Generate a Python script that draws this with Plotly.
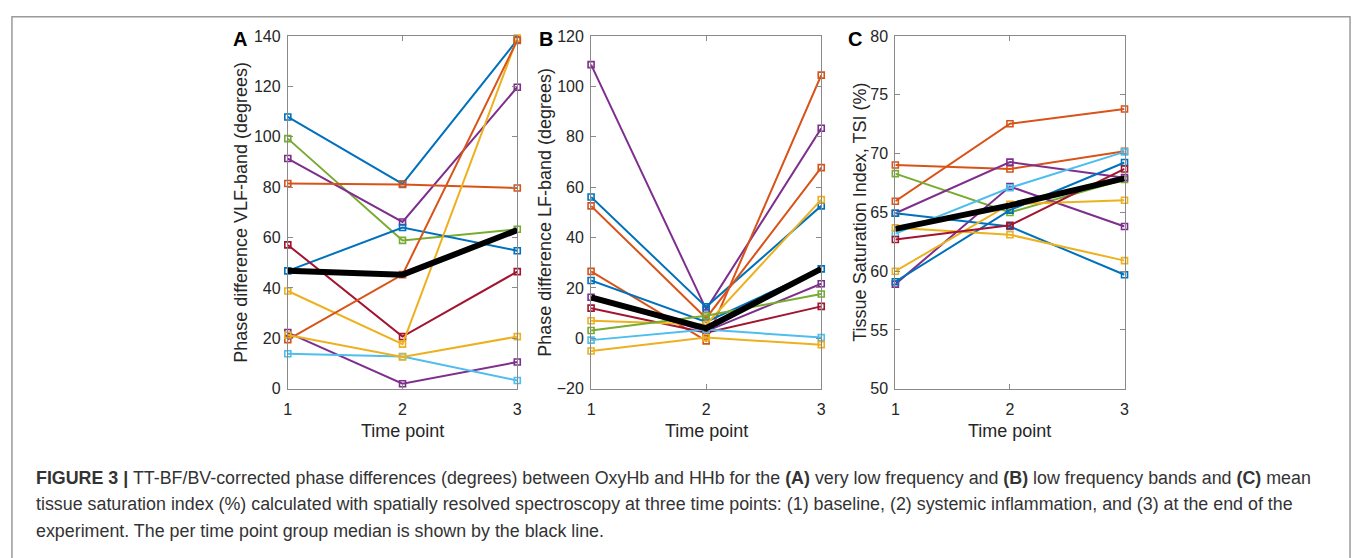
import plotly.graph_objects as go

# ---------------- data ----------------
time_points = [1, 2, 3]
x_tick_labels = ["1", "2", "3"]

# Panel A: phase difference VLF-band (degrees), one list per subject
vlf_subjects = [
    [107.9, 81.3, 138.5],
    [99.3, 58.9, 63.3],
    [91.4, 66.2, 119.7],
    [81.5, 81.1, 79.7],
    [46.8, 64.0, 54.8],
    [57.1, 20.7, 46.5],
    [38.8, 17.7, 139.2],
    [19.5, 45.3, 138.3],
    [22.3, 2.0, 10.6],
    [13.9, 12.8, 3.3],
    [21.3, 12.6, 20.7],
]
vlf_median = [46.8, 45.3, 63.0]

# Panel B: phase difference LF-band (degrees)
lf_subjects = [
    [108.7, 11.5, 83.4],
    [56.1, 12.5, 52.6],
    [52.6, 8.0, 67.8],
    [26.6, -1.0, 104.5],
    [23.0, 6.5, 27.6],
    [16.3, 2.8, 21.7],
    [12.0, 2.2, 12.7],
    [7.0, 5.5, 55.1],
    [3.1, 9.0, 17.6],
    [-0.7, 3.5, 0.3],
    [-5.0, 0.3, -2.5],
]
lf_median = [16.3, 4.0, 27.6]

# Panel C: tissue saturation index (%)
tsi_subjects = [
    [65.95, 72.55, 73.8],
    [69.03, 68.7, 70.2],
    [68.3, 65.0, 67.8],
    [64.93, 69.28, 67.96],
    [58.9, 67.2, 63.8],
    [64.93, 63.8, 59.7],
    [59.1, 65.2, 69.25],
    [63.2, 67.1, 70.15],
    [63.7, 63.1, 60.9],
    [60.0, 65.7, 66.03],
    [62.7, 63.9, 68.7],
]
tsi_median = [63.6, 65.6, 67.9]

# ---------------- styles ----------------
BLUE, ORANGE, YELLOW, PURPLE = "#0072BD", "#D95319", "#EDB120", "#7E2F8E"
GREEN, LBLUE, DRED = "#77AC30", "#4DBEEE", "#A2142F"
vlf_colors = [BLUE, GREEN, PURPLE, ORANGE, BLUE, DRED, YELLOW, ORANGE, PURPLE, LBLUE, YELLOW]
lf_colors = [PURPLE, BLUE, ORANGE, ORANGE, BLUE, PURPLE, DRED, YELLOW, GREEN, LBLUE, YELLOW]
tsi_colors = [ORANGE, ORANGE, GREEN, PURPLE, PURPLE, BLUE, BLUE, LBLUE, YELLOW, YELLOW, DRED]

W, H = 1358, 558
FONT = "Liberation Sans, Arial, Helvetica, sans-serif"
AX_COLOR = "#8a8a8a"
TXT = "#262626"

def px(x):
    return x / W

def py(y):
    return 1 - y / H

panels = [
    dict(subjects=vlf_subjects, colors=vlf_colors, median=vlf_median,
         left=285.7, right=516.7, yrange=[0, 140], dtick=20,
         ytitle="Phase difference VLF-band (degrees)", ytitle_x=239, label="A", label_x=238),
    dict(subjects=lf_subjects, colors=lf_colors, median=lf_median,
         left=591.0, right=822.7, yrange=[-20, 120], dtick=20,
         ytitle="Phase difference LF-band (degrees)", ytitle_x=545, label="B", label_x=546),
    dict(subjects=tsi_subjects, colors=tsi_colors, median=tsi_median,
         left=897.3, right=1128.0, yrange=[50, 80], dtick=5,
         ytitle="Tissue Saturation Index, TSI (%)", ytitle_x=862, label="C", label_x=857),
]

TOP, BOTTOM = 29.0, 392.7

fig = go.Figure()
annotations = []
layout_axes = {}

for i, p in enumerate(panels):
    n = "" if i == 0 else str(i + 1)
    xa, ya = "x" + n, "y" + n
    for vals, col in zip(p["subjects"], p["colors"]):
        fig.add_trace(go.Scatter(
            x=time_points, y=vals, xaxis=xa, yaxis=ya, mode="lines+markers",
            line=dict(color=col, width=2),
            marker=dict(symbol="square-open", size=6, color=col, line=dict(width=1.6, color=col)),
            cliponaxis=False, showlegend=False, hoverinfo="x+y"))
    fig.add_trace(go.Scatter(
        x=time_points, y=p["median"], xaxis=xa, yaxis=ya, mode="lines",
        line=dict(color="black", width=6), cliponaxis=False, showlegend=False))

    common = dict(showline=True, linecolor=AX_COLOR, linewidth=1, mirror="ticks",
                  ticks="inside", ticklen=5, tickcolor=AX_COLOR, tickwidth=1,
                  showgrid=False, zeroline=False,
                  tickfont=dict(family=FONT, size=16, color=TXT))
    layout_axes["xaxis" + n] = dict(
        common, domain=[px(p["left"]), px(p["right"])], anchor=ya, range=[1, 3],
        tickvals=time_points, ticktext=x_tick_labels, ticklabelstandoff=6)
    layout_axes["yaxis" + n] = dict(
        common, domain=[py(BOTTOM), py(TOP)], anchor=xa, range=p["yrange"],
        dtick=p["dtick"], tick0=p["yrange"][0], ticklabelstandoff=3)

    annotations.append(dict(
        text="Time point", xref="paper", yref="paper",
        x=px((p["left"] + p["right"]) / 2), y=py(436), xanchor="center", yanchor="middle",
        showarrow=False, font=dict(family=FONT, size=18, color=TXT)))
    annotations.append(dict(
        text=p["ytitle"], xref="paper", yref="paper", textangle=-90,
        x=px(p["ytitle_x"]), y=py((TOP + BOTTOM) / 2), xanchor="center", yanchor="middle",
        showarrow=False, font=dict(family=FONT, size=18, color=TXT)))
    annotations.append(dict(
        text="<b>" + p["label"] + "</b>", xref="paper", yref="paper",
        x=px(p["label_x"]), y=py(32), xanchor="center", yanchor="middle",
        showarrow=False, font=dict(family=FONT, size=20, color="black")))

caption_lines = [
    "<b>FIGURE 3 |</b> TT-BF/BV-corrected phase differences (degrees) between OxyHb and HHb for the "
    "<b>(A)</b> very low frequency and <b>(B)</b> low frequency bands and <b>(C)</b> mean",
    "tissue saturation index (%) calculated with spatially resolved spectroscopy at three time points: "
    "(1) baseline, (2) systemic inflammation, and (3) at the end of the",
    "experiment. The per time point group median is shown by the black line.",
]
caption_y = [485, 512, 539]
for line, yy in zip(caption_lines, caption_y):
    annotations.append(dict(
        text=line, xref="paper", yref="paper", x=px(30), y=py(yy),
        xanchor="left", yanchor="middle", showarrow=False,
        font=dict(family=FONT, size=17.85, color="#333333")))

fig.update_layout(
    width=W, height=H, margin=dict(l=0, r=0, t=0, b=0),
    paper_bgcolor="white", plot_bgcolor="white",
    annotations=annotations,
    shapes=[dict(type="rect", xref="paper", yref="paper",
                 x0=px(8), x1=px(1355), y0=-0.1, y1=py(9),
                 line=dict(color="#9a9a9a", width=1.5), fillcolor="rgba(0,0,0,0)")],
    **layout_axes,
)

fig.write_html("out.html", config={"displayModeBar": False},
               post_script="document.body.style.margin='0';document.body.style.overflow='hidden';")
